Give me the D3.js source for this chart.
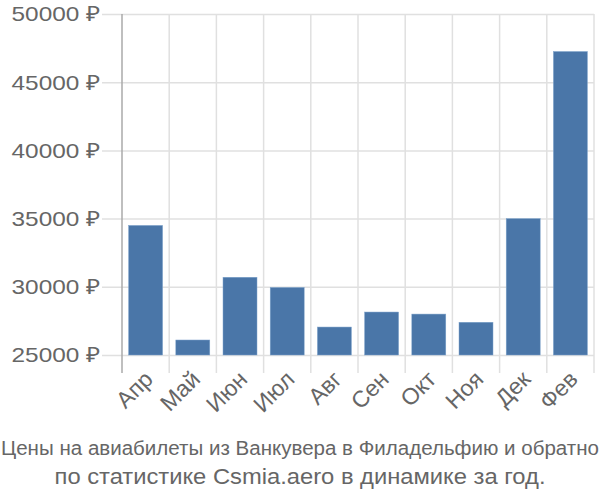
<!DOCTYPE html>
<html><head><meta charset="utf-8">
<script src="https://cdn.jsdelivr.net/npm/d3@7"></script>
<style>body{margin:0;background:#fff}svg{display:block}</style>
</head><body>
<script>
const categories = ["Апр","Май","Июн","Июл","Авг","Сен","Окт","Ноя","Дек","Фев"];
const values = [34500,26100,30700,29950,27050,28150,28000,27400,35000,47250];
const yTicks = [25000,30000,35000,40000,45000,50000];
const titleLines = ["Цены на авиабилеты из Ванкувера в Филадельфию и обратно","по статистике Csmia.aero в динамике за год."];

const W=600,H=500, L=122, R=594, T=14, B=355;
const font = "'Liberation Sans', Arial, sans-serif";
const SX = 1.16;
const svg = d3.select("body").append("svg").attr("width",W).attr("height",H);
const x = d3.scaleBand().domain(categories).range([L,R]).paddingInner(0.28).paddingOuter(0.14);
const xg = d3.scaleBand().domain(categories).range([L,R]);
const y = d3.scaleLinear().domain([25000,50000]).range([B,T]);

// horizontal grid
svg.append("g").selectAll("line").data(yTicks).join("line")
  .attr("x1",L-20).attr("x2",R).attr("y1",d=>y(d)+0.5).attr("y2",d=>y(d)+0.5)
  .attr("stroke","#e0e0e0").attr("stroke-width",1.5);
// vertical grid
const vx = categories.map(c=>xg(c)).concat([R]);
svg.append("g").selectAll("line").data(vx.slice(1)).join("line")
  .attr("x1",d=>d).attr("x2",d=>d).attr("y1",T).attr("y2",B+18)
  .attr("stroke","#e0e0e0").attr("stroke-width",1.5);
// y axis line
svg.append("line").attr("x1",L).attr("x2",L).attr("y1",T).attr("y2",B+18)
  .attr("stroke","#aaa").attr("stroke-width",1.5);

// bars
svg.append("g").selectAll("rect").data(values).join("rect")
  .attr("x",(d,i)=>x(categories[i])).attr("width",x.bandwidth())
  .attr("y",d=>y(d)).attr("height",d=>B-y(d))
  .attr("fill","#4a76a8").attr("stroke","#7fa3cc").attr("stroke-width",0.5);

// y labels
svg.append("g").selectAll("text").data(yTicks).join("text")
  .attr("transform",d=>`translate(${L-22},${y(d)}) scale(${SX},1)`)
  .attr("dy","0.35em").attr("text-anchor","end")
  .attr("font-family",font).attr("font-size",21).attr("fill","#666")
  .text(d=>d+" ₽");

// x labels
svg.append("g").selectAll("text").data(categories).join("text")
  .attr("transform",d=>`translate(${xg(d)+xg.bandwidth()/2+3},${B+20}) rotate(-45)`)
  .attr("text-anchor","end").attr("dy","0.35em")
  .attr("font-family",font).attr("font-size",23).attr("fill","#666")
  .text(d=>d);

// title
svg.append("text").attr("x",W/2).attr("y",455).attr("text-anchor","middle")
  .attr("font-family",font).attr("font-size",20).attr("fill","#666")
  .attr("textLength",598).attr("lengthAdjust","spacingAndGlyphs").text(titleLines[0]);
svg.append("text").attr("transform",`translate(${W/2},484) scale(1.08,1)`).attr("text-anchor","middle")
  .attr("font-family",font).attr("font-size",22).attr("fill","#666")
  .text(titleLines[1]);
</script>
</body></html>
